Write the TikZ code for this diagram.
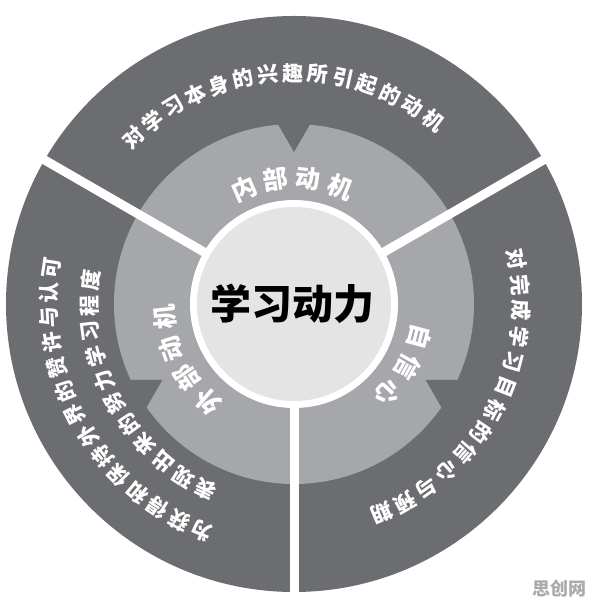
\documentclass[tikz,border=0pt]{standalone}
\usepackage{fontspec}
\newfontfamily\cjk{Noto Sans CJK SC}
\definecolor{outerg}{HTML}{6C6D71}
\definecolor{midg}{HTML}{A6A7AB}
\definecolor{innerg}{HTML}{E4E4E4}
\definecolor{markg}{HTML}{ABABAB}
\newcommand\ArcText[6]{%
  \foreach \ch [count=\i from 0] in {#6}{%
    \pgfmathsetmacro\ang{#4+\i*(#5)}%
    \pgfmathsetmacro\rot{\ang-90}%
    \node[#2, rotate=\rot] (#1-\i) at (\ang:#3) {\ch};
  }}
\begin{document}
\begin{tikzpicture}[x=1pt,y=1pt,
  outertext/.style={font=\cjk\bfseries\fontsize{21}{21}\selectfont, text=white, inner sep=0pt},
  midtext/.style={font=\cjk\bfseries\fontsize{25}{25}\selectfont, text=white, inner sep=0pt},
  coretext/.style={font=\cjk\bfseries\fontsize{41}{41}\selectfont, text=black, inner sep=0pt},
  marktext/.style={font=\cjk\bfseries\fontsize{18}{18}\selectfont, text=markg, inner sep=0pt},
  divider/.style={white, line width=9pt}]
\useasboundingbox[fill=white] (-294,-308) rectangle (302,304);
% outer ring
\fill[outerg] (0,0) circle (288);
% middle ring with V notches
\fill[midg] (0,0) circle (180);
\foreach \p in {90,210,330}
  \fill[outerg] (\p:152) -- ++(\p+30:40) -- ++(\p-90:40) -- cycle;
% dividers
\foreach \a in {30,150,270}
  \draw[divider] (0,0) -- (\a:300);
% inner disk
\fill[white] (0,0) circle (104);
\fill[innerg] (0,0) circle (97);
% texts
\node[coretext] (core) at (-2,0) {学习动力};
\ArcText{top}{outertext}{231}{134}{-6.25}{对,学,习,本,身,的,兴,趣,所,引,起,的,动,机}
\ArcText{lefta}{outertext}{245}{247.9}{-5.88}{为,获,得,和,保,持,外,界,的,赞,许,与,认,可}
\ArcText{leftb}{outertext}{205}{244.6}{-7.12}{表,现,出,来,的,努,力,学,习,程,度}
\ArcText{right}{outertext}{227}{11.4}{-6.55}{对,完,成,学,习,目,标,的,信,心,与,预,期}
\ArcText{inner}{midtext}{126}{113.5}{-15}{内,部,动,机}
\ArcText{outer}{midtext}{130}{228.7}{-14.3}{外,部,动,机}
\ArcText{conf}{midtext}{130}{-14.8}{-14.35}{自,信,心}
\node[marktext] (mark) at (265,-285) {思创网};
\end{tikzpicture}
\end{document}
